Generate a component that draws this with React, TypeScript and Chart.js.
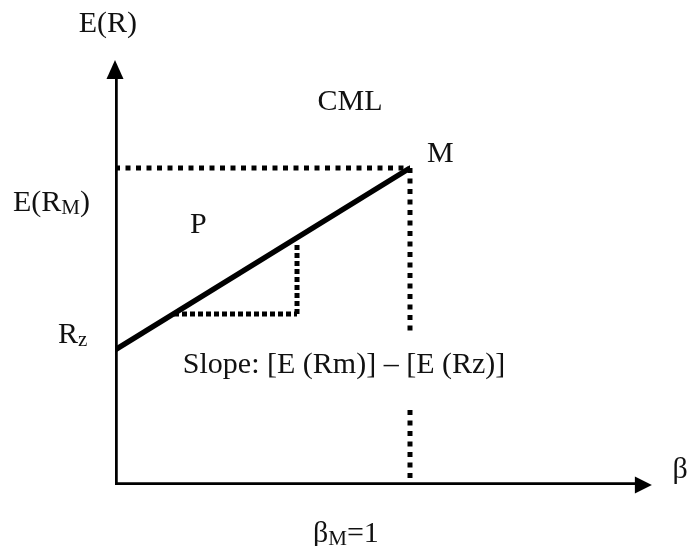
import React, { useEffect, useRef } from "react";
import { Chart, registerables } from "chart.js";

Chart.register(...registerables);

// Axis extents (data units: x = beta, y = expected return)
const xAxisEnd = 1.82;
const yAxisEnd = 4.25;

// Key values
const betaM = 1;
const eRM = 3.17;
const rz = 1.35;

// CML line
const cmlX = [0, betaM];
const cmlY = [rz, eRM];

// Slope triangle
const triX = [0.2, 0.617];
const triLow = 1.71;
const triHigh = 2.42;

// Vertical dotted at beta = 1 (broken around label)
const vUpper = [eRM, 1.5];
const vLower = [0.75, 0];

// Labels [text parts, x, y]
type Part = { t: string; sub?: boolean };
const labels: { parts: Part[]; x: number; y: number; align?: "left" | "center" }[] = [
  { parts: [{ t: "E(R)" }], x: -0.024, y: 4.53, align: "center" },
  { parts: [{ t: "CML" }], x: 0.797, y: 3.75, align: "center" },
  { parts: [{ t: "M" }], x: 1.058, y: 3.23 },
  { parts: [{ t: "E(R" }, { t: "M", sub: true }, { t: ")" }], x: -0.346, y: 2.74 },
  { parts: [{ t: "P" }], x: 0.254, y: 2.52 },
  { parts: [{ t: "R" }, { t: "z", sub: true }], x: -0.193, y: 1.42 },
  { parts: [{ t: "Slope: [E (Rm)] \u2013 [E (Rz)]" }], x: 0.23, y: 1.12 },
  { parts: [{ t: "\u03b2" }], x: 1.89, y: 0.07 },
  { parts: [{ t: "\u03b2" }, { t: "M", sub: true }, { t: "=1" }], x: 0.671, y: -0.57 },
];

const FONT = "30px 'Liberation Serif', 'Times New Roman', serif";
const SUBFONT = "21px 'Liberation Serif', 'Times New Roman', serif";

const overlay = {
  id: "overlay",
  afterDraw(chart: any) {
    const ctx = chart.ctx as CanvasRenderingContext2D;
    const xs = chart.scales.x;
    const ys = chart.scales.y;
    const px = (v: number) => xs.getPixelForValue(v);
    const py = (v: number) => ys.getPixelForValue(v);
    ctx.save();
    ctx.fillStyle = "#000";
    // y arrow
    const yx = px(0);
    const yt = py(yAxisEnd);
    ctx.beginPath();
    ctx.moveTo(yx, yt);
    ctx.lineTo(yx - 8.5, yt + 19);
    ctx.lineTo(yx + 8.5, yt + 19);
    ctx.closePath();
    ctx.fill();
    // x arrow
    const xt = px(xAxisEnd);
    const xy = py(0);
    ctx.beginPath();
    ctx.moveTo(xt, xy);
    ctx.lineTo(xt - 17, xy - 8.5);
    ctx.lineTo(xt - 17, xy + 8.5);
    ctx.closePath();
    ctx.fill();

    // labels
    ctx.fillStyle = "#111";
    ctx.textBaseline = "alphabetic";
    ctx.textAlign = "left";
    for (const l of labels) {
      let total = 0;
      for (const p of l.parts) {
        ctx.font = p.sub ? SUBFONT : FONT;
        total += ctx.measureText(p.t).width;
      }
      let x = px(l.x);
      if (l.align === "center") x -= total / 2;
      const y = py(l.y);
      for (const p of l.parts) {
        ctx.font = p.sub ? SUBFONT : FONT;
        ctx.fillText(p.t, x, y + (p.sub ? 3 : 0));
        x += ctx.measureText(p.t).width;
      }
    }
    ctx.restore();
  },
};

export default function App() {
  const ref = useRef<HTMLCanvasElement>(null);
  useEffect(() => {
    if (!ref.current) return;
    const solid = { showLine: true, pointRadius: 0, borderColor: "#000", borderWidth: 5.5, fill: false };
    const dotted = { ...solid, borderWidth: 5, borderDash: [5, 5.5] };
    const sq = { ...solid, borderWidth: 5, borderDash: [5, 3] };
    const chart = new Chart(ref.current, {
      type: "scatter",
      data: {
        datasets: [
          { ...solid, data: [{ x: 0, y: 0 }, { x: 0, y: yAxisEnd - 0.15 }] },
          { ...solid, data: [{ x: 0, y: 0 }, { x: xAxisEnd - 0.05, y: 0 }] },
          { ...solid, data: cmlX.map((x, i) => ({ x, y: cmlY[i] })) },
          { ...dotted, data: [{ x: 0, y: eRM }, { x: betaM, y: eRM }] },
          { ...dotted, data: vUpper.map((y) => ({ x: betaM, y })) },
          { ...dotted, data: vLower.map((y) => ({ x: betaM, y })) },
          { ...sq, data: triX.map((x) => ({ x, y: triLow })) },
          { ...sq, data: [{ x: triX[1], y: triLow }, { x: triX[1], y: triHigh }] },
        ] as any,
      },
      options: {
        responsive: false,
        animation: false,
        layout: { padding: { left: 115, right: 28.25, top: 55, bottom: 61 } },
        plugins: { legend: { display: false }, tooltip: { enabled: false } },
        scales: {
          x: { type: "linear", min: 0, max: 1.85, display: false },
          y: { type: "linear", min: 0, max: 4.3, display: false },
        },
      },
      plugins: [overlay],
    });
    return () => chart.destroy();
  }, []);
  return (
    <div style={{ position: "absolute", left: 0, top: 0, width: 689, height: 546, background: "#fff" }}>
      <canvas ref={ref} width={689} height={546} />
    </div>
  );
}
